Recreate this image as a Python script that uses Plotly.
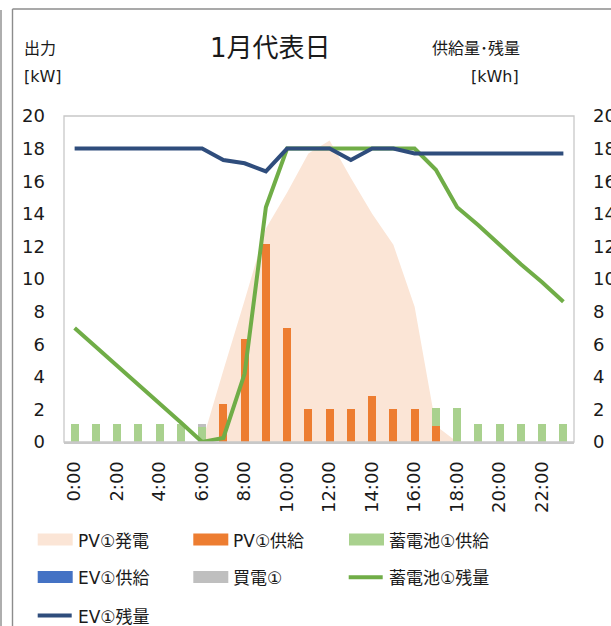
import plotly.graph_objects as go

# Hourly categories
hours = ["0:00", "1:00", "2:00", "3:00", "4:00", "5:00", "6:00", "7:00",
         "8:00", "9:00", "10:00", "11:00", "12:00", "13:00", "14:00", "15:00",
         "16:00", "17:00", "18:00", "19:00", "20:00", "21:00", "22:00", "23:00"]
tick_hours = ["0:00", "2:00", "4:00", "6:00", "8:00", "10:00",
              "12:00", "14:00", "16:00", "18:00", "20:00", "22:00"]

# Output [kW]
pv_gen = [0, 0, 0, 0, 0, 0, 0, 4.4, 8.7, 13.1, 15.3, 17.7,
          18.5, 16.2, 14.0, 12.1, 8.3, 1.0, 0, 0, 0, 0, 0, 0]
pv_supply = [0, 0, 0, 0, 0, 0, 0, 2.35, 6.35, 12.15, 7.0, 2.05,
             2.05, 2.05, 2.8, 2.05, 2.05, 1.0, 0, 0, 0, 0, 0, 0]
batt_supply = [1.1, 1.1, 1.1, 1.1, 1.1, 1.1, 0.95, 0, 0, 0, 0, 0,
               0, 0, 0, 0, 0, 1.1, 2.1, 1.1, 1.1, 1.1, 1.1, 1.1]
ev_supply = [0, 0, 0, 0, 0, 0, 0, 0, 0, 0, 0, 0,
             0, 0, 0, 0, 0, 0, 0, 0, 0, 0, 0, 0]
grid_buy = [0, 0, 0, 0, 0, 0, 0.15, 0, 0, 0, 0, 0,
            0, 0, 0, 0, 0, 0, 0, 0, 0, 0, 0, 0]

# Stored energy [kWh]
batt_level = [7.0, 5.85, 4.7, 3.5, 2.35, 1.2, 0.0, 0.25, 4.2, 14.4, 18.0, 18.0,
              18.0, 18.0, 18.0, 18.0, 18.0, 16.7, 14.4, 13.3, 12.1, 10.9, 9.8, 8.6]
ev_level = [18.0, 18.0, 18.0, 18.0, 18.0, 18.0, 18.0, 17.3, 17.1, 16.6, 18.0, 18.0,
            18.0, 17.3, 18.0, 18.0, 17.7, 17.7, 17.7, 17.7, 17.7, 17.7, 17.7, 17.7]

C_PVGEN = "#FBE5D6"
C_PVSUP = "#ED7D31"
C_BATSUP = "#A9D18E"
C_EVSUP = "#4472C4"
C_BUY = "#BFBFBF"
C_BATLV = "#70AD47"
C_EVLV = "#2F4D7C"

FONT = "DejaVu Sans, Noto Sans CJK JP, sans-serif"
TXT = "#1a1a1a"

W, H = 611, 626
ML, MR, MT, MB = 64, 37, 116, 184
PW = W - ML - MR
PH = H - MT - MB


def px(x):
    return (x - ML) / PW


def py(y):
    return (H - MB - y) / PH


fig = go.Figure()

# generation area (bottom layer)
fig.add_trace(go.Scatter(x=hours, y=pv_gen, mode="none", fill="tozeroy",
                         fillcolor=C_PVGEN, name="PV①発電",
                         xaxis="x", yaxis="y", hoverinfo="skip"))

# stacked supply bars
for name, vals, col in [("PV①供給", pv_supply, C_PVSUP),
                        ("蓄電池①供給", batt_supply, C_BATSUP),
                        ("EV①供給", ev_supply, C_EVSUP),
                        ("買電①", grid_buy, C_BUY)]:
    fig.add_trace(go.Bar(x=hours, y=vals, name=name, marker_color=col,
                         marker_line_width=0, xaxis="x", yaxis="y2"))

# storage levels
fig.add_trace(go.Scatter(x=hours, y=batt_level, mode="lines", name="蓄電池①残量",
                         line=dict(color=C_BATLV, width=4), xaxis="x", yaxis="y3"))
fig.add_trace(go.Scatter(x=hours, y=ev_level, mode="lines", name="EV①残量",
                         line=dict(color=C_EVLV, width=4), xaxis="x", yaxis="y3"))

shapes = []
annotations = []

# plot frame
shapes.append(dict(type="rect", xref="paper", yref="paper", x0=0, x1=1, y0=0, y1=1,
                   line=dict(color="#C8C8C8", width=1.3), layer="above"))
# chart outer border
shapes.append(dict(type="line", xref="paper", yref="paper",
                   x0=px(12.5), x1=px(12.5), y0=py(9), y1=py(H + 2),
                   line=dict(color="#8C8C8C", width=1.4)))
shapes.append(dict(type="line", xref="paper", yref="paper",
                   x0=px(12.5), x1=px(W + 2), y0=py(9), y1=py(9),
                   line=dict(color="#8C8C8C", width=1.4)))
shapes.append(dict(type="line", xref="paper", yref="paper",
                   x0=px(1), x1=px(1), y0=py(10), y1=py(H + 2),
                   line=dict(color="#8C8C8C", width=1.4)))

# legend
legend_items = [
    ("rect", C_PVGEN, "PV①発電", 37.7, 539.5),
    ("rect", C_PVSUP, "PV①供給", 193.3, 539.5),
    ("rect", C_BATSUP, "蓄電池①供給", 349.0, 539.5),
    ("rect", C_EVSUP, "EV①供給", 37.7, 577.0),
    ("rect", C_BUY, "買電①", 193.3, 577.0),
    ("line", C_BATLV, "蓄電池①残量", 346.7, 577.3),
    ("line", C_EVLV, "EV①残量", 35.7, 615.5),
]
for kind, col, label, x0, yc in legend_items:
    if kind == "rect":
        shapes.append(dict(type="rect", xref="paper", yref="paper",
                           x0=px(x0), x1=px(x0 + 35), y0=py(yc + 6), y1=py(yc - 6),
                           fillcolor=col, line=dict(width=0)))
        tx = x0 + 38
    else:
        shapes.append(dict(type="line", xref="paper", yref="paper",
                           x0=px(x0 + 2), x1=px(x0 + 36), y0=py(yc), y1=py(yc),
                           line=dict(color=col, width=4)))
        tx = x0 + 40
    annotations.append(dict(text=label, xref="paper", yref="paper",
                            x=px(tx), y=py(yc + 1), xanchor="left", yanchor="middle",
                            showarrow=False, font=dict(family=FONT, size=17, color=TXT)))

# title and axis captions
annotations.append(dict(text="1月代表日", xref="paper", yref="paper",
                        x=px(270.5), y=py(48), xanchor="center", yanchor="middle",
                        showarrow=False, font=dict(family=FONT, size=26, color=TXT)))
annotations.append(dict(text="出力", xref="paper", yref="paper",
                        x=px(22), y=py(48), xanchor="left", yanchor="middle",
                        showarrow=False, font=dict(family=FONT, size=16, color=TXT)))
annotations.append(dict(text="[kW]", xref="paper", yref="paper",
                        x=px(22), y=py(76), xanchor="left", yanchor="middle",
                        showarrow=False, font=dict(family=FONT, size=16, color=TXT)))
annotations.append(dict(text="供給量･残量", xref="paper", yref="paper",
                        x=px(522), y=py(48), xanchor="right", yanchor="middle",
                        showarrow=False, font=dict(family=FONT, size=16, color=TXT)))
annotations.append(dict(text="[kWh]", xref="paper", yref="paper",
                        x=px(521), y=py(76), xanchor="right", yanchor="middle",
                        showarrow=False, font=dict(family=FONT, size=16, color=TXT)))

tickfont = dict(family=FONT, size=18, color=TXT)

fig.update_layout(
    width=W, height=H,
    margin=dict(l=ML, r=MR, t=MT, b=MB, pad=0, autoexpand=False),
    paper_bgcolor="white", plot_bgcolor="white",
    showlegend=False,
    barmode="stack", bargap=0.62,
    xaxis=dict(type="category", categoryorder="array", categoryarray=hours,
               tickmode="array", tickvals=tick_hours, ticktext=tick_hours,
               tickangle=-90, tickfont=tickfont, ticks="", showgrid=False,
               showline=True, linecolor="#C8C8C8", linewidth=2, automargin=False,
               ticklabelstandoff=10, zeroline=False),
    yaxis=dict(range=[0, 20], dtick=2, tick0=0, tickfont=tickfont, ticks="",
               showgrid=False, zeroline=False, showline=False, automargin=False,
               ticklabelstandoff=18),
    yaxis2=dict(range=[0, 20], overlaying="y", visible=False, showgrid=False),
    yaxis3=dict(range=[0, 20], dtick=2, tick0=0, overlaying="y", side="right",
                tickfont=tickfont, ticks="", showgrid=False, zeroline=False,
                showline=False, automargin=False, ticklabelstandoff=18),
    shapes=shapes,
    annotations=annotations,
)

fig.write_html("out.html")
